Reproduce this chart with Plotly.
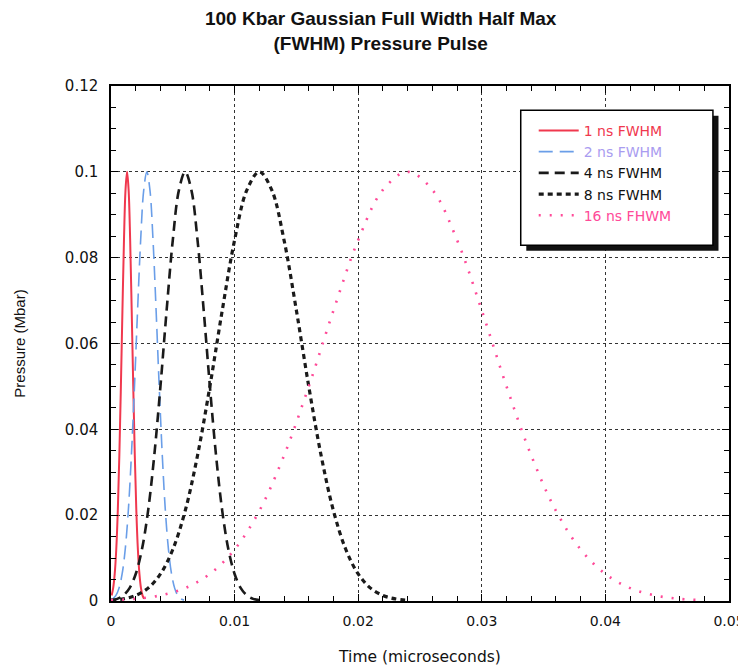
import plotly.graph_objects as go

# ---- data (time in microseconds, pressure in Mbar) ----
t_1ns = [0.00005, 0.000175, 0.0003, 0.000425, 0.00055, 0.000675, 0.0008, 0.000925,
         0.00105, 0.001175, 0.0013, 0.001425, 0.00155, 0.001675, 0.0018, 0.001925,
         0.00205, 0.002175, 0.0023, 0.002425, 0.00255, 0.002675]
p_1ns = [0.0013, 0.0030, 0.0063, 0.0120, 0.0210, 0.0339, 0.0500, 0.0677, 0.0841, 0.0958,
         0.1000, 0.0958, 0.0841, 0.0677, 0.0500, 0.0339, 0.0210, 0.0120, 0.0063, 0.0030,
         0.0013, 0.0005]

t_2ns = [0.00015, 0.0004, 0.00065, 0.0009, 0.00115, 0.0014, 0.00165, 0.0019, 0.00215,
         0.0024, 0.00265, 0.0029, 0.00315, 0.0034, 0.00365, 0.0039, 0.00415, 0.0044,
         0.00465, 0.0049, 0.00515, 0.0054, 0.00565, 0.0059]
p_2ns = [0.0005, 0.0013, 0.0030, 0.0063, 0.0120, 0.0210, 0.0339, 0.0500, 0.0677, 0.0841,
         0.0958, 0.1000, 0.0958, 0.0841, 0.0677, 0.0500, 0.0339, 0.0210, 0.0120, 0.0063,
         0.0030, 0.0013, 0.0005, 0.0002]

t_4ns = [0.0, 0.0005, 0.001, 0.0015, 0.002, 0.0025, 0.003, 0.0035, 0.004, 0.0045, 0.005,
         0.0055, 0.006, 0.0065, 0.007, 0.0075, 0.008, 0.0085, 0.009, 0.0095, 0.010,
         0.0105, 0.011, 0.0115, 0.012]
p_4ns = [0.0002, 0.0005, 0.0013, 0.0030, 0.0063, 0.0120, 0.0210, 0.0339, 0.0500, 0.0677,
         0.0841, 0.0958, 0.1000, 0.0958, 0.0841, 0.0677, 0.0500, 0.0339, 0.0210, 0.0120,
         0.0063, 0.0030, 0.0013, 0.0005, 0.0002]

t_8ns = [0.0, 0.001, 0.002, 0.003, 0.004, 0.005, 0.006, 0.007, 0.008, 0.009, 0.010,
         0.011, 0.012, 0.013, 0.014, 0.015, 0.016, 0.017, 0.018, 0.019, 0.020, 0.021,
         0.022, 0.023, 0.024]
p_8ns = [0.0002, 0.0005, 0.0013, 0.0030, 0.0063, 0.0120, 0.0210, 0.0339, 0.0500, 0.0677,
         0.0841, 0.0958, 0.1000, 0.0958, 0.0841, 0.0677, 0.0500, 0.0339, 0.0210, 0.0120,
         0.0063, 0.0030, 0.0013, 0.0005, 0.0002]

t_16ns = [0.0, 0.002, 0.004, 0.006, 0.008, 0.010, 0.012, 0.014, 0.016, 0.018, 0.020,
          0.022, 0.024, 0.026, 0.028, 0.030, 0.032, 0.034, 0.036, 0.038, 0.040, 0.042,
          0.044, 0.046, 0.048]
p_16ns = [0.0002, 0.0005, 0.0013, 0.0030, 0.0063, 0.0120, 0.0210, 0.0339, 0.0500, 0.0677,
          0.0841, 0.0958, 0.1000, 0.0958, 0.0841, 0.0677, 0.0500, 0.0339, 0.0210, 0.0120,
          0.0063, 0.0030, 0.0013, 0.0005, 0.0002]

names = ["1 ns FWHM", "2 ns FWHM", "4 ns FWHM", "8 ns FWHM", "16 ns FHWM"]
name_colors = ["#f0384e", "#a99cf0", "#111111", "#111111", "#ff4a98"]

x_ticks = [0, 0.01, 0.02, 0.03, 0.04, 0.05]
x_labels = ["0", "0.01", "0.02", "0.03", "0.04", "0.05"]
y_ticks = [0, 0.02, 0.04, 0.06, 0.08, 0.1, 0.12]
y_labels = ["0", "0.02", "0.04", "0.06", "0.08", "0.1", "0.12"]

SANS = "Liberation Sans, Arial, Helvetica, sans-serif"
WIDE = "DejaVu Sans, Verdana, sans-serif"

series = [
    (t_1ns, p_1ns, dict(color="#f0384e", width=2, dash="solid")),
    (t_2ns, p_2ns, dict(color="#6a9ee8", width=1.6, dash="14px,7px")),
    (t_4ns, p_4ns, dict(color="#1a1a1a", width=2.6, dash="10px,6px")),
    (t_8ns, p_8ns, dict(color="#1a1a1a", width=3.2, dash="5px,4px")),
    (t_16ns, p_16ns, dict(color="#ff4a98", width=2.6, dash="2px,9px")),
]

fig = go.Figure()
for (tx, py, ln), nm, nc in zip(series, names, name_colors):
    fig.add_trace(go.Scatter(
        x=tx, y=py, mode="lines", line=dict(shape="spline", smoothing=1.0, **ln),
        name=f"<span style='color:{nc}'>{nm}</span>",
    ))

# legend frame with drop shadow (paper coordinates)
lx0, lx1, ly0, ly1 = 0.663, 0.974, 0.691, 0.953
fig.add_shape(type="rect", xref="paper", yref="paper",
              x0=lx0 + 0.009, x1=lx1 + 0.009, y0=ly0 - 0.011, y1=ly1 - 0.011,
              fillcolor="#111111", line=dict(width=0), layer="above")
fig.add_shape(type="rect", xref="paper", yref="paper",
              x0=lx0, x1=lx1, y0=ly0, y1=ly1,
              fillcolor="white", line=dict(color="black", width=1.5), layer="above")

axis_common = dict(
    showline=True, linecolor="black", linewidth=1.5, mirror="allticks",
    ticks="inside", ticklen=7, tickcolor="black", tickwidth=1,
    showgrid=True, gridcolor="#333333", griddash="dot", gridwidth=1,
    zeroline=False, automargin=False,
)

fig.update_xaxes(range=[0, 0.05], tickvals=x_ticks, ticktext=x_labels,
                 ticklabelstandoff=6,
                 tickfont=dict(family=WIDE, size=14, color="#111111"),
                 minor=dict(dtick=0.002, ticks="inside", ticklen=5, tickcolor="black",
                            showgrid=False),
                 title=dict(text="Time (microseconds)", font=dict(family=WIDE, size=15.5,
                                                                  color="#111111"),
                            standoff=24),
                 **axis_common)
fig.update_yaxes(range=[0, 0.12], tickvals=y_ticks, ticktext=y_labels,
                 ticklabelstandoff=8,
                 tickfont=dict(family=WIDE, size=15, color="#111111"),
                 minor=dict(dtick=0.005, ticks="inside", ticklen=5, tickcolor="black",
                            showgrid=False),
                 title=dict(text="Pressure (Mbar)", font=dict(family=SANS, size=15,
                                                              color="#111111"),
                            standoff=36),
                 **axis_common)

# the page adds an 8px body margin, so the figure is a little smaller than the window
fig.update_layout(
    width=738, height=659,
    margin=dict(l=103, r=17, t=78, b=66),
    paper_bgcolor="white", plot_bgcolor="white",
    title=dict(text="<b>100 Kbar Gaussian Full Width Half Max<br>(FWHM) Pressure Pulse</b>",
               x=0.505, xanchor="center", yref="container", y=0.974, yanchor="top",
               font=dict(family=SANS, size=19, color="#111111")),
    showlegend=True,
    legend=dict(x=0.684, y=0.944, xanchor="left", yanchor="top",
                bgcolor="rgba(0,0,0,0)", borderwidth=0,
                font=dict(family=WIDE, size=14, color="#111111"),
                itemwidth=40, tracegroupgap=0),
    font=dict(family=SANS),
)

fig.write_html("out.html")
